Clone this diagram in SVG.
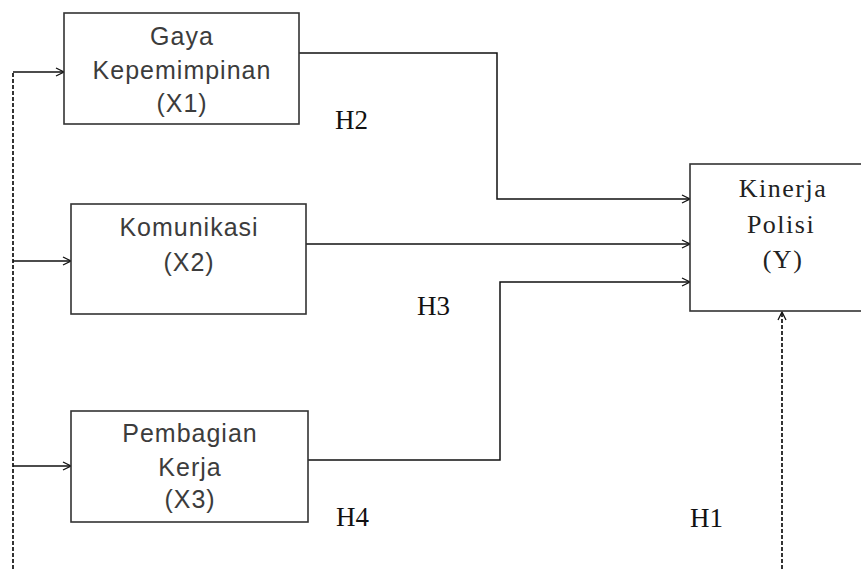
<svg xmlns="http://www.w3.org/2000/svg" width="861" height="569" viewBox="0 0 861 569">
<defs>
<marker id="arr" markerUnits="userSpaceOnUse" markerWidth="10" markerHeight="10" refX="9" refY="5" orient="auto">
<path d="M1,1 L9,5 L1,9" fill="none" stroke="#111" stroke-width="1.3"/>
</marker>
<style>
.box{fill:#fff;stroke:#333;stroke-width:1.6}
.sans{font-family:"Liberation Sans",Arial,sans-serif;font-size:25px;fill:#3c3c3c;text-anchor:middle;letter-spacing:1px}
.serif{font-family:"Liberation Serif","Times New Roman",serif;font-size:26px;fill:#222;text-anchor:middle;letter-spacing:1.5px}
.h{font-family:"Liberation Serif","Times New Roman",serif;font-size:27px;fill:#111}
.ln{fill:none;stroke:#111;stroke-width:1.5}
.dash{fill:none;stroke:#111;stroke-width:1.7;stroke-dasharray:4 2}
</style>
</defs>
<g id="connectors">
<path class="dash" d="M13,569 V72"/>
<path class="ln" d="M13,72 H64" marker-end="url(#arr)"/>
<path class="ln" d="M13,261 H71" marker-end="url(#arr)"/>
<path class="ln" d="M13,466 H71" marker-end="url(#arr)"/>
<path class="ln" d="M299,53 H497 V199 H690" marker-end="url(#arr)"/>
<path class="ln" d="M306,244 H690" marker-end="url(#arr)"/>
<path class="ln" d="M308,460 H500 V282 H690" marker-end="url(#arr)"/>
<path class="dash" d="M782,569 V312" marker-end="url(#arr)"/>
</g>
<g id="x1">
<rect class="box" x="64" y="13" width="235" height="111"/>
<text class="sans" x="182" y="45">Gaya</text>
<text class="sans" x="182" y="79">Kepemimpinan</text>
<text class="sans" x="182" y="112">(X1)</text>
</g>
<g id="x2">
<rect class="box" x="71" y="204" width="235" height="110"/>
<text class="sans" x="189" y="236">Komunikasi</text>
<text class="sans" x="189" y="271">(X2)</text>
</g>
<g id="x3">
<rect class="box" x="71" y="411" width="237" height="111"/>
<text class="sans" x="190" y="442">Pembagian</text>
<text class="sans" x="190" y="476">Kerja</text>
<text class="sans" x="190" y="508">(X3)</text>
</g>
<g id="y">
<rect class="box" x="690" y="164" width="190" height="147"/>
<text class="serif" x="783" y="197">Kinerja</text>
<text class="serif" x="781" y="233">Polisi</text>
<text class="serif" x="783" y="268">(Y)</text>
</g>
<g id="labels">
<text class="h" x="335" y="129">H2</text>
<text class="h" x="417" y="315">H3</text>
<text class="h" x="336" y="526">H4</text>
<text class="h" x="690" y="527">H1</text>
</g>
</svg>
